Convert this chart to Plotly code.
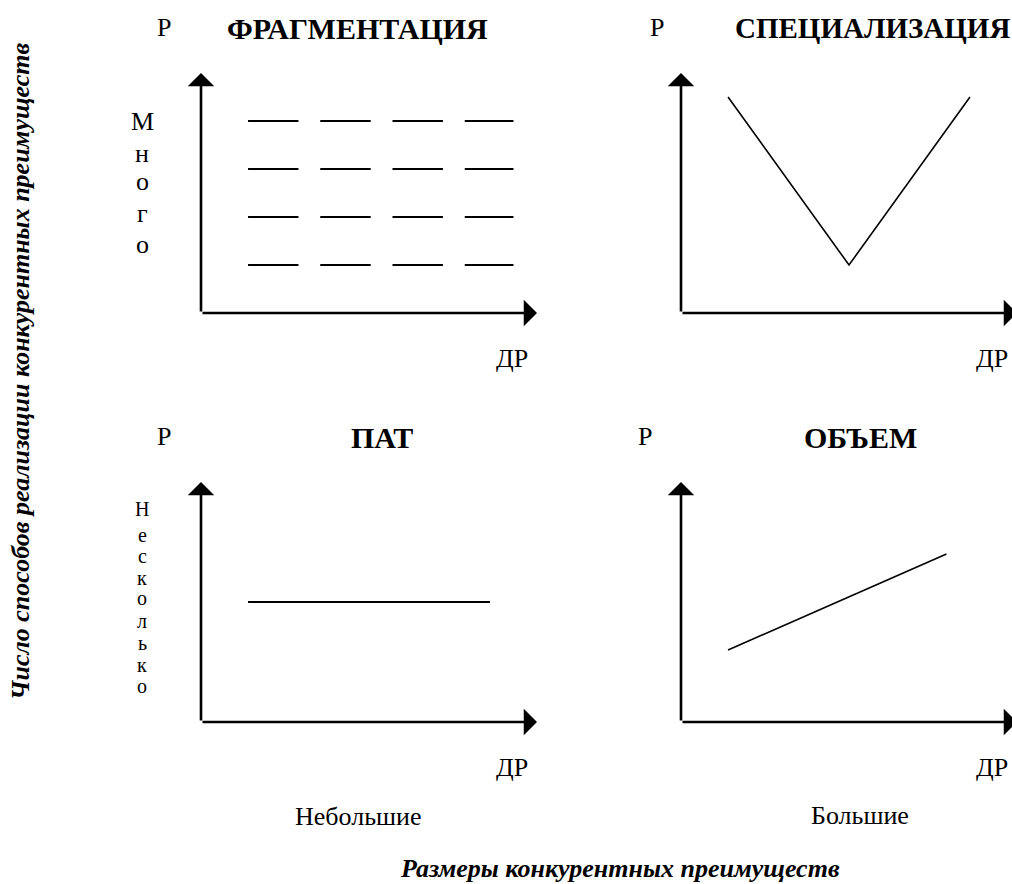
import plotly.graph_objects as go

# ---------------- data ----------------
panel_titles = ["ФРАГМЕНТАЦИЯ", "СПЕЦИАЛИЗАЦИЯ", "ПАТ", "ОБЪЕМ"]
y_label = "Р"
x_label = "ДР"

frag_rows = [2, 4, 6, 8]
frag_x_starts = [1.4, 3.55, 5.7, 7.85]
frag_x_ends = [2.9, 5.05, 7.2, 9.3]

spec_x = [1.4, 5.0, 8.6]
spec_y = [9, 2, 9]

pat_x = [1.4, 8.6]
pat_y = [5, 5]

vol_x = [1.4, 7.9]
vol_y = [3, 7]

word_many = "Много"
word_few = "Несколько"
size_small = "Небольшие"
size_large = "Большие"
title_left = "Число способов реализации конкурентных преимуществ"
title_bottom = "Размеры конкурентных преимуществ"

# ---------------- layout helpers ----------------
W, H = 1012, 884
FONT = "Liberation Serif, Times New Roman, serif"


def px(x):
    return x / W


def py(y):
    return 1 - y / H


fig = go.Figure()

# axes for 4 panels  (origin pixel, tip pixel)
left_x = (201, 537)
right_x0 = 681
top_y = (313, 73)
bot_y = (722, 482)
ppu_x = (left_x[1] - left_x[0]) / 10.0
right_range = (W - right_x0) / ppu_x

axes_defs = {
    1: dict(xd=[px(left_x[0]), px(left_x[1])], xr=[0, 10], yd=[py(top_y[0]), py(top_y[1])]),
    2: dict(xd=[px(right_x0), 1.0], xr=[0, right_range], yd=[py(top_y[0]), py(top_y[1])]),
    3: dict(xd=[px(left_x[0]), px(left_x[1])], xr=[0, 10], yd=[py(bot_y[0]), py(bot_y[1])]),
    4: dict(xd=[px(right_x0), 1.0], xr=[0, right_range], yd=[py(bot_y[0]), py(bot_y[1])]),
}

layout_axes = {}
for i, d in axes_defs.items():
    sx = "" if i == 1 else str(i)
    layout_axes[f"xaxis{sx}"] = dict(domain=d["xd"], range=d["xr"], visible=False,
                                     fixedrange=True, anchor=f"y{sx}")
    layout_axes[f"yaxis{sx}"] = dict(domain=d["yd"], range=[0, 10], visible=False,
                                     fixedrange=True, anchor=f"x{sx}")

# ---------------- traces ----------------
fx, fy = [], []
for r in frag_rows:
    for s, e in zip(frag_x_starts, frag_x_ends):
        fx += [s, e, None]
        fy += [r, r, None]
fig.add_trace(go.Scatter(x=fx, y=fy, mode="lines", line=dict(color="black", width=2),
                         xaxis="x", yaxis="y", hoverinfo="skip", showlegend=False))
fig.add_trace(go.Scatter(x=spec_x, y=spec_y, mode="lines", line=dict(color="black", width=1.6),
                         xaxis="x2", yaxis="y2", hoverinfo="skip", showlegend=False))
fig.add_trace(go.Scatter(x=pat_x, y=pat_y, mode="lines", line=dict(color="black", width=2),
                         xaxis="x3", yaxis="y3", hoverinfo="skip", showlegend=False))
fig.add_trace(go.Scatter(x=vol_x, y=vol_y, mode="lines", line=dict(color="black", width=1.6),
                         xaxis="x4", yaxis="y4", hoverinfo="skip", showlegend=False))

annotations = []

# axis arrows
for i in range(1, 5):
    sx = "" if i == 1 else str(i)
    xr, yr = f"x{sx}", f"y{sx}"
    annotations.append(dict(x=0, y=10, ax=0, ay=0, xref=xr, yref=yr, axref=xr, ayref=yr,
                            text="", showarrow=True, arrowhead=1, arrowsize=1.7, arrowwidth=2.6,
                            arrowcolor="black"))
    annotations.append(dict(x=10, y=0, ax=0, ay=0, xref=xr, yref=yr, axref=xr, ayref=yr,
                            text="", showarrow=True, arrowhead=1, arrowsize=1.7, arrowwidth=2.6,
                            arrowcolor="black"))


def text(t, x, y, size=26, bold=False, italic=False, angle=0, xanchor="center", yanchor="middle"):
    s = t
    if bold:
        s = f"<b>{s}</b>"
    if italic:
        s = f"<i>{s}</i>"
    annotations.append(dict(text=s, x=px(x), y=py(y), xref="paper", yref="paper",
                            showarrow=False, textangle=angle, xanchor=xanchor, yanchor=yanchor,
                            font=dict(family=FONT, size=size, color="black")))


# "Р" labels
for (x, y) in [(164, 27), (657, 27), (164, 436), (645, 436)]:
    text(y_label, x, y)
# Titles
title_sizes = [30, 29, 30, 30]
for t, (x, y), s in zip(panel_titles, [(357, 28), (872, 28), (382, 437), (860, 437)], title_sizes):
    text(t, x, y, size=s, bold=True)
# "ДР" labels
for (x, y) in [(512, 358), (992, 358), (512, 767), (992, 767)]:
    text(x_label, x, y)

# vertical words
many_y = [122, 153, 182, 213, 244]
for ch, y in zip(word_many, many_y):
    text(ch, 142, y)
few_y = [509, 535, 556, 578, 598, 621, 643, 665, 686]
for ch, y in zip(word_few, few_y):
    text(ch, 142, y, size=20)

text(size_small, 358, 816)
text(size_large, 860, 815)

text(title_left, 20, 371, size=26, bold=True, italic=True, angle=-90)
text(title_bottom, 620, 868, size=26, bold=True, italic=True)

fig.update_layout(
    width=W, height=H,
    margin=dict(l=0, r=0, t=0, b=0),
    paper_bgcolor="white", plot_bgcolor="white",
    showlegend=False,
    annotations=annotations,
    **layout_axes,
)

fig.write_html(
    "out.html",
    config={"displayModeBar": False},
    post_script=(
        "document.body.style.margin='0';"
        "document.body.style.overflow='hidden';"
        "document.documentElement.style.overflow='hidden';"
    ),
)
